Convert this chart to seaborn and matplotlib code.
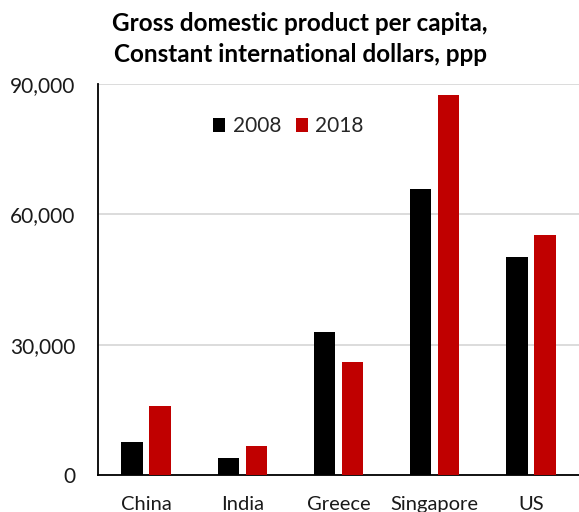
import matplotlib
matplotlib.use("Agg")
import matplotlib.pyplot as plt
import seaborn as sns
import pandas as pd
from matplotlib.ticker import FuncFormatter

countries = ["China", "India", "Greece", "Singapore", "US"]
gdp_2008 = [7600, 3900, 32900, 65800, 50200]
gdp_2018 = [15900, 6700, 26000, 87400, 55300]
years = ["2008", "2018"]
colors = ["#000000", "#C00000"]
title = "Gross domestic product per capita,\nConstant international dollars, ppp"

df = pd.DataFrame({
    "country": countries * 2,
    "year": [years[0]] * len(countries) + [years[1]] * len(countries),
    "gdp": gdp_2008 + gdp_2018,
})

sns.set_theme(style="white")
plt.rcParams["font.family"] = ["Lato", "DejaVu Sans"]

fig = plt.figure(figsize=(5.79, 5.12), dpi=100)
ax = fig.add_axes([98/579, 1-475/512, 1-98/579, (475-84)/512])

sns.barplot(data=df, x="country", y="gdp", hue="year", palette=colors,
            width=0.58, gap=0.23, ax=ax, saturation=1, errorbar=None,
            edgecolor="none", zorder=3)

ax.set_ylim(0, 90000)
ax.set_xlim(-0.5, 4.5)
ax.set_yticks([0, 30000, 60000, 90000])
ax.yaxis.set_major_formatter(FuncFormatter(lambda v, p: f"{int(v):,}"))
ax.grid(axis="y", color="#D9D9D9", linewidth=1.3, zorder=0)
ax.grid(axis="x", visible=False)
ax.set_xlabel("")
ax.set_ylabel("")
for s in ["top", "right"]:
    ax.spines[s].set_visible(False)
ax.spines["left"].set_color("black")
ax.spines["left"].set_linewidth(1.3)
ax.spines["bottom"].set_color("black")
ax.spines["bottom"].set_linewidth(1.3)
ax.tick_params(axis="x", length=0, pad=15, labelsize=14.5, colors="#1a1a1a")
ax.tick_params(axis="y", length=0, pad=16.5, labelsize=15, colors="#1a1a1a")

leg = ax.legend(loc="upper left", bbox_to_anchor=(0.2, 0.965), ncol=2,
                frameon=False, fontsize=15, handlelength=0.6, handleheight=0.6,
                handletextpad=0.35, columnspacing=0.7)

fig.text(300/579, 1-39/512, title, ha="center", va="center", fontsize=17.5,
         fontweight="bold", linespacing=1.45, color="#000000")

fig.savefig("out.png", dpi=100)
